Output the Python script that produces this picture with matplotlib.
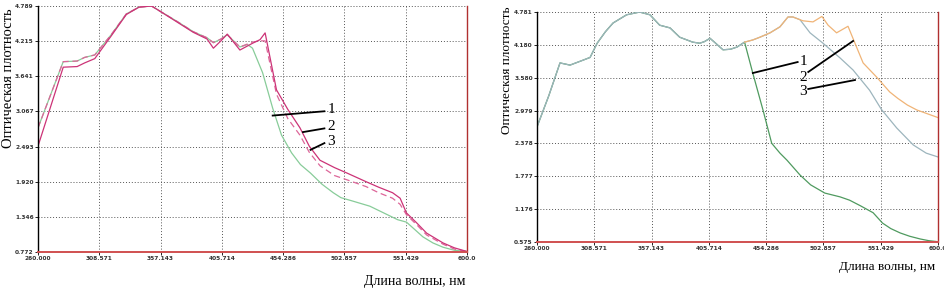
import numpy as np
import matplotlib
matplotlib.use("Agg")
from matplotlib import pyplot as plt

# Left panel data
#--------------------------------------------------------------------------
wl_left = [260, 280, 291, 297, 305, 318, 330, 340, 350, 357, 370, 383, 394,
           399, 405, 410, 420, 430, 436, 440, 449, 458, 467.6, 475, 483.5,
           495, 505, 520, 530, 541, 547, 552, 560, 568, 581, 590, 600]
od_left_2 = [2.50, 3.79, 3.80, 3.86, 3.93, 4.30, 4.65, 4.77, 4.789, 4.70,
             4.53, 4.36, 4.25, 4.10, 4.22, 4.33, 4.07, 4.18, 4.24, 4.35,
             3.42, 3.10, 2.80, 2.50, 2.27, 2.15, 2.06, 1.92, 1.83, 1.74,
             1.65, 1.41, 1.25, 1.08, 0.92, 0.84, 0.78]
od_left_3 = [2.80, 3.88, 3.89, 3.95, 3.99, 4.32, 4.66, 4.77, 4.789, 4.70,
             4.54, 4.37, 4.27, 4.19, 4.25, 4.32, 4.12, 4.20, 4.22, 4.22,
             3.35, 2.95, 2.68, 2.40, 2.18, 2.02, 1.95, 1.84, 1.74, 1.65,
             1.55, 1.38, 1.22, 1.05, 0.90, 0.82, 0.78]
wl_left_1 = [260, 280, 291, 297, 305, 318, 330, 340, 350, 357, 370, 383, 394,
             399, 405, 410, 420, 426, 430, 438, 446, 453, 461, 468, 476,
             485, 494, 500, 510, 523, 537, 545, 552, 558, 565, 573, 581,
             590, 600]
od_left_1 = [2.80, 3.88, 3.89, 3.95, 3.99, 4.32, 4.66, 4.77, 4.789, 4.70,
             4.54, 4.37, 4.27, 4.19, 4.25, 4.32, 4.12, 4.16, 4.10, 3.70,
             3.12, 2.68, 2.39, 2.20, 2.06, 1.88, 1.74, 1.66, 1.60, 1.52,
             1.38, 1.30, 1.26, 1.15, 1.02, 0.92, 0.85, 0.80, 0.78]
yticks_left = [0.772, 1.346, 1.920, 2.493, 3.067, 3.641, 4.215, 4.789]

# Right panel data
#--------------------------------------------------------------------------
wl_common = [260, 270, 279.5, 288, 299, 305, 311, 318, 324.5, 336, 347,
             355.8, 364, 372.8, 381, 392, 398, 402, 406.7, 412, 417.7, 424,
             429.6, 436]
od_common = [2.68, 3.25, 3.85, 3.81, 3.90, 3.95, 4.21, 4.42, 4.58, 4.73,
             4.78, 4.73, 4.54, 4.49, 4.32, 4.23, 4.21, 4.24, 4.30, 4.20,
             4.09, 4.10, 4.14, 4.23]
wl_right_1 = [443, 451.6, 459, 466, 472, 483, 492, 504, 517, 525, 534, 545,
              553, 560, 568, 576, 585, 592, 600]
od_right_1 = [3.66, 2.99, 2.38, 2.20, 2.07, 1.80, 1.62, 1.47, 1.40, 1.34,
              1.24, 1.11, 0.92, 0.82, 0.74, 0.68, 0.63, 0.60, 0.58]
wl_shared = [443, 449, 457.6, 466, 472.8, 477, 483]
od_shared = [4.27, 4.32, 4.40, 4.51, 4.69, 4.69, 4.64]
wl_right_2 = [485.5, 494, 501.6, 506.8, 514, 523.7, 529.6, 536.5, 548, 559,
              566, 574, 582, 591, 600]
od_right_2 = [4.62, 4.60, 4.70, 4.54, 4.40, 4.52, 4.21, 3.85, 3.59, 3.32,
              3.20, 3.08, 2.99, 2.92, 2.85]
wl_right_3 = [491.5, 502.5, 517, 528, 542, 552, 565, 579, 590, 600]
od_right_3 = [4.40, 4.21, 3.94, 3.72, 3.35, 3.00, 2.66, 2.35, 2.20, 2.13]
yticks_right = [0.575, 1.176, 1.777, 2.378, 2.979, 3.580, 4.180, 4.781]

xticks = [260.000, 308.571, 357.143, 405.714, 454.286, 502.857, 551.429, 600.0]
xticklabels = ['260.000', '308.571', '357.143', '405.714', '454.286',
               '502.857', '551.429', '600.0']

ylabel = "Оптическая плотность"
xlabel = "Длина волны, нм"


def style_axes(ax, yticks):
    ax.set_xlim(260, 600)
    ax.set_ylim(yticks[0], yticks[-1])
    ax.set_xticks(xticks)
    ax.set_xticklabels(xticklabels)
    ax.set_yticks(yticks)
    ax.set_yticklabels(['{:.3f}'.format(v) for v in yticks])
    ax.grid(True, color='#555555', linestyle=(0, (1, 2)), linewidth=0.7)
    ax.tick_params(labelsize=4.2, length=2, width=0.6, pad=1)
    for lab in ax.get_xticklabels() + ax.get_yticklabels():
        lab.set_fontweight('bold')
        lab.set_color('#333333')
    ax.spines['top'].set_visible(False)
    ax.spines['left'].set_color('black')
    ax.spines['left'].set_linewidth(1.0)
    ax.spines['bottom'].set_color('#d05050')
    ax.spines['bottom'].set_linewidth(1.4)
    ax.spines['right'].set_color('#b03030')
    ax.spines['right'].set_linewidth(1.0)


def main():
    fig = plt.figure(figsize=(9.45, 2.88), dpi=100)

    # Left panel
    #--------------------------------------------------------------------------
    ax1 = fig.add_axes([38/945, 1-252/288, 429/945, 246/288])
    ax1.plot(wl_left_1, od_left_1, color='#88cc99', lw=0.9)
    ax1.plot(wl_left, od_left_3, color='#dd6699', lw=0.9, ls=(0, (5, 3)))
    ax1.plot(wl_left, od_left_2, color='#cc3377', lw=0.9)
    style_axes(ax1, yticks_left)
    for (x0, y0, x1, y1, lbl) in [(446, 3.00, 487, 3.07, '1'),
                                  (470, 2.73, 487, 2.79, '2'),
                                  (476, 2.44, 487, 2.55, '3')]:
        ax1.plot([x0, x1], [y0, y1], color='black', lw=1.3)
        ax1.text(x1 + 2.5, y1 + 0.03, lbl, fontsize=11,
                 family='Liberation Serif', va='center', ha='left')

    # Right panel
    #--------------------------------------------------------------------------
    ax2 = fig.add_axes([537/945, 1-242/288, 401/945, 230/288])
    ax2.plot(wl_common + wl_right_1, od_common + od_right_1,
             color='#4f9a5f', lw=0.9)
    ax2.plot(wl_common + wl_shared + wl_right_3,
             od_common + od_shared + od_right_3, color='#9db5bd', lw=0.9)
    ax2.plot([wl_common[-1]] + wl_shared + wl_right_2,
             [od_common[-1]] + od_shared + od_right_2,
             color='#f0b477', lw=0.9)
    style_axes(ax2, yticks_right)
    for (x0, y0, x1, y1, lbl, tx, ty) in [
            (443, 3.665, 481, 3.866, '1', 486, 3.88),
            (490, 3.684, 528, 4.251, '2', 485.5, 3.58),
            (490, 3.373, 529.6, 3.537, '3', 485.5, 3.32)]:
        ax2.plot([x0, x1], [y0, y1], color='black', lw=1.3)
        ax2.text(tx, ty, lbl, fontsize=11, family='Liberation Serif',
                 va='center', ha='center')

    # Axis labels
    #--------------------------------------------------------------------------
    fig.text(9/945, 1-78/288, ylabel, rotation=90, fontsize=10.5,
             family='Liberation Serif', va='center', ha='center')
    fig.text(415/945, 1-281/288, xlabel, fontsize=10,
             family='Liberation Serif', va='center', ha='center')
    fig.text(507/945, 1-70/288, ylabel, rotation=90, fontsize=9.5,
             family='Liberation Serif', va='center', ha='center')
    fig.text(887/945, 1-267/288, xlabel, fontsize=9.5,
             family='Liberation Serif', va='center', ha='center')

    fig.savefig('out.png', dpi=100)


if __name__ == "__main__":
    main()
